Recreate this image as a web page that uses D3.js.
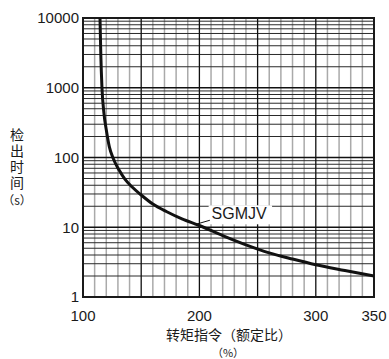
<!DOCTYPE html>
<html>
<head>
<meta charset="utf-8">
<script src="https://cdn.jsdelivr.net/npm/d3@7"></script>
<style>
  body { margin: 0; background: #fff; }
  text { font-family: "Liberation Sans", Arial, sans-serif; fill: #1a1a1a; }
  .cjk { font-family: "Noto Sans CJK SC", sans-serif; }
</style>
</head>
<body>
<div id="chart"></div>
<script>
// torque reference (% of rated) vs. detection time (s)
var torque = [114.6, 115.3, 116.3, 118, 120, 122.6, 126, 131, 136, 142, 150, 160, 172, 185, 200, 220, 240, 260, 280, 300, 325, 350];
var time = [10000, 3000, 1000, 430, 250, 143, 97, 66, 49, 38, 29, 21.5, 16.7, 13.2, 10.6, 7.6, 5.6, 4.3, 3.5, 2.9, 2.4, 2.0];

var xTicks = [100, 200, 300, 350];
var yTicks = [1, 10, 100, 1000, 10000];
var seriesName = "SGMJV";
var yTitle = "检出时间";
var yUnit = "（s）";
var xTitle = "转矩指令（额定比）";
var xUnit = "（%）";

var width = 389, height = 359;
var margin = { top: 18, right: 15, bottom: 62, left: 83 };

var svg = d3.select("#chart").append("svg")
  .attr("width", width)
  .attr("height", height);

var xScale = d3.scaleLinear().domain([100, 350]).range([margin.left, width - margin.right]);
var yScale = d3.scaleLog().domain([1, 10000]).range([height - margin.bottom, margin.top]);

var x0 = xScale.range()[0], x1 = xScale.range()[1];
var yb = yScale.range()[0], yt = yScale.range()[1];

// grey minor verticals every 10 %
var minorX = d3.range(110, 350, 10).filter(function (v) { return v % 50 !== 0; });
svg.append("g").selectAll("line").data(minorX).enter().append("line")
  .attr("x1", function (d) { return xScale(d); })
  .attr("x2", function (d) { return xScale(d); })
  .attr("y1", yt).attr("y2", yb)
  .attr("stroke", "#aaa").attr("stroke-width", 1.5);

// horizontal log grid
var hLines = [];
[1, 10, 100, 1000].forEach(function (dec) {
  for (var k = 2; k <= 9; k++) hLines.push(dec * k);
});
svg.append("g").selectAll("line").data(hLines).enter().append("line")
  .attr("x1", x0).attr("x2", x1)
  .attr("y1", function (d) { return yScale(d); })
  .attr("y2", function (d) { return yScale(d); })
  .attr("stroke", "#2a2a2a").attr("stroke-width", 1);

svg.append("g").selectAll("line").data(yTicks.slice(1, 4)).enter().append("line")
  .attr("x1", x0).attr("x2", x1)
  .attr("y1", function (d) { return yScale(d); })
  .attr("y2", function (d) { return yScale(d); })
  .attr("stroke", "#111").attr("stroke-width", 1.3);

// black major verticals every 50 %
svg.append("g").selectAll("line").data([150, 200, 250, 300]).enter().append("line")
  .attr("x1", function (d) { return xScale(d); })
  .attr("x2", function (d) { return xScale(d); })
  .attr("y1", yt).attr("y2", yb)
  .attr("stroke", "#111").attr("stroke-width", 1.3);

// frame
svg.append("rect")
  .attr("x", x0).attr("y", yt)
  .attr("width", x1 - x0).attr("height", yb - yt)
  .attr("fill", "none").attr("stroke", "#1a1a1a").attr("stroke-width", 2);

// curve
var pts = torque.map(function (t, i) { return [xScale(t), yScale(time[i])]; });
var line = d3.line().curve(d3.curveMonotoneX);
svg.append("path")
  .attr("d", line(pts))
  .attr("fill", "none")
  .attr("stroke", "#111")
  .attr("stroke-width", 3);

// series label with white box and leader
var lbl = svg.append("g");
var lblText = lbl.append("text")
  .attr("x", xScale(210.5))
  .attr("y", yScale(13.0))
  .attr("font-size", 16)
  .text(seriesName);
var bb = lblText.node().getBBox();
lbl.insert("rect", "text")
  .attr("x", bb.x - 3).attr("y", bb.y)
  .attr("width", bb.width + 8).attr("height", bb.height + 2)
  .attr("fill", "#fff");
lbl.append("line")
  .attr("x1", xScale(196)).attr("y1", yScale(10.9))
  .attr("x2", xScale(209)).attr("y2", yScale(12.6))
  .attr("stroke", "#111").attr("stroke-width", 1);

// tick labels
svg.append("g").selectAll("text").data(yTicks).enter().append("text")
  .attr("x", x0 - 4)
  .attr("y", function (d) { return yScale(d); })
  .attr("dy", "0.36em")
  .attr("text-anchor", "end")
  .attr("font-size", 15)
  .text(function (d) { return d; });

svg.append("g").selectAll("text").data(xTicks).enter().append("text")
  .attr("x", function (d) { return xScale(d); })
  .attr("y", yb + 23.5)
  .attr("text-anchor", "middle")
  .attr("font-size", 15)
  .text(function (d) { return d; });

// axis titles
svg.append("text").attr("class", "cjk")
  .attr("x", 17).attr("y", 128)
  .attr("writing-mode", "vertical-rl")
  .attr("letter-spacing", 1.8)
  .attr("font-size", 14)
  .text(yTitle);
svg.append("text").attr("class", "cjk")
  .attr("x", 17).attr("y", 205)
  .attr("text-anchor", "middle")
  .attr("font-size", 12)
  .text(yUnit);

svg.append("text").attr("class", "cjk")
  .attr("x", 229).attr("y", 340)
  .attr("text-anchor", "middle")
  .attr("font-size", 14)
  .text(xTitle);
svg.append("text").attr("class", "cjk")
  .attr("x", 228).attr("y", 357)
  .attr("text-anchor", "middle")
  .attr("font-size", 11)
  .text(xUnit);
</script>
</body>
</html>
